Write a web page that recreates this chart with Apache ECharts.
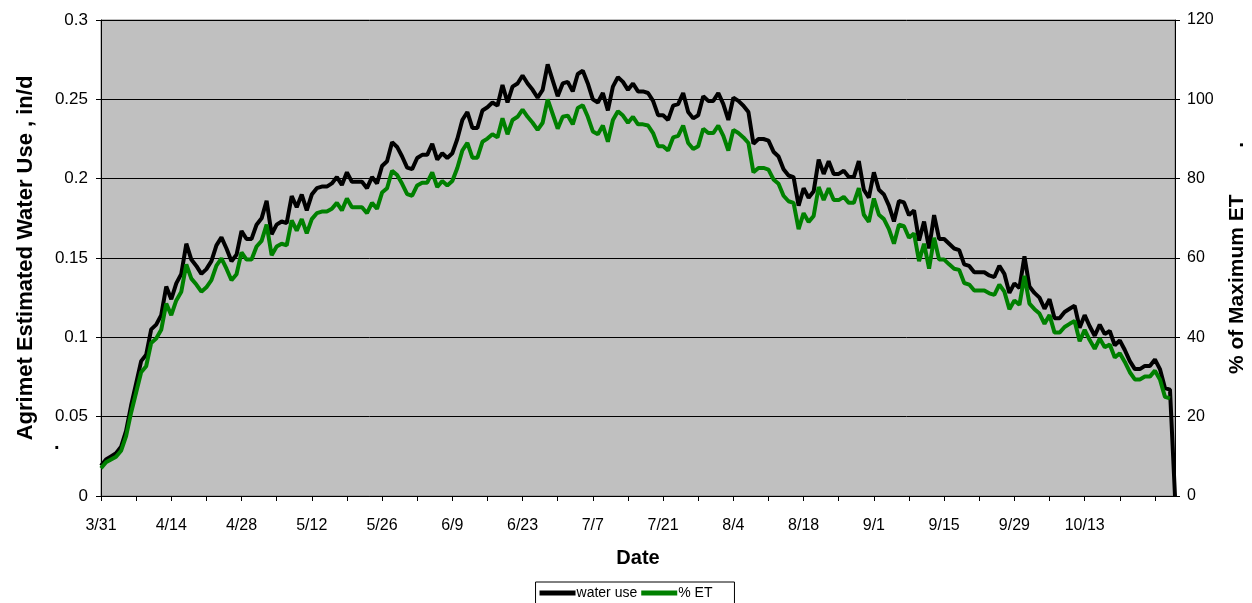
<!DOCTYPE html>
<html>
<head>
<meta charset="utf-8">
<script src="https://cdn.jsdelivr.net/npm/echarts@6/dist/echarts.min.js"></script>
<style>
  html, body { margin: 0; padding: 0; background: #fff; }
  #chart { width: 1252px; height: 603px; }
</style>
</head>
<body>
<div id="chart"></div>
<script>
// daily values, 3/31 .. 10/31
const startMonth = 3
const startDay = 31
const dayCount = 215

const waterUse = [
  0.019, 0.023, 0.025, 0.027, 0.031, 0.041, 0.057, 0.071, 0.085, 0.089,
  0.105, 0.108, 0.114, 0.132, 0.124, 0.134, 0.140, 0.159, 0.149, 0.145,
  0.140, 0.143, 0.148, 0.158, 0.163, 0.156, 0.148, 0.152, 0.167, 0.162,
  0.162, 0.171, 0.175, 0.186, 0.165, 0.171, 0.173, 0.172, 0.189, 0.182,
  0.190, 0.180, 0.190, 0.194, 0.195, 0.195, 0.197, 0.201, 0.196, 0.204,
  0.198, 0.198, 0.198, 0.194, 0.201, 0.197, 0.208, 0.211, 0.223, 0.220,
  0.214, 0.207, 0.206, 0.213, 0.215, 0.215, 0.222, 0.212, 0.216, 0.213,
  0.216, 0.225, 0.237, 0.242, 0.232, 0.232, 0.243, 0.245, 0.248, 0.246,
  0.259, 0.248, 0.258, 0.260, 0.265, 0.260, 0.256, 0.251, 0.256, 0.272,
  0.262, 0.252, 0.260, 0.261, 0.255, 0.266, 0.268, 0.260, 0.250, 0.248,
  0.254, 0.243, 0.258, 0.264, 0.261, 0.256, 0.260, 0.255, 0.255, 0.254,
  0.249, 0.240, 0.240, 0.237, 0.246, 0.247, 0.254, 0.242, 0.238, 0.240,
  0.252, 0.249, 0.249, 0.254, 0.247, 0.237, 0.251, 0.249, 0.246, 0.242,
  0.222, 0.225, 0.225, 0.224, 0.217, 0.214, 0.206, 0.202, 0.201, 0.183,
  0.194, 0.188, 0.192, 0.212, 0.203, 0.211, 0.203, 0.203, 0.205, 0.201,
  0.201, 0.211, 0.193, 0.188, 0.204, 0.193, 0.190, 0.183, 0.173, 0.186,
  0.185, 0.177, 0.180, 0.161, 0.173, 0.156, 0.177, 0.162, 0.162, 0.159,
  0.156, 0.155, 0.146, 0.145, 0.141, 0.141, 0.141, 0.139, 0.138, 0.145,
  0.140, 0.128, 0.134, 0.131, 0.151, 0.132, 0.128, 0.125, 0.118, 0.124,
  0.112, 0.112, 0.116, 0.118, 0.120, 0.106, 0.114, 0.107, 0.101, 0.108,
  0.102, 0.104, 0.095, 0.098, 0.092, 0.085, 0.080, 0.080, 0.082, 0.082,
  0.086, 0.080, 0.068, 0.067, 0
]

const pctET = [
  7.0, 8.5, 9.2, 9.9, 11.4, 15.1, 21.0, 26.1, 31.2, 32.7,
  38.6, 39.7, 41.9, 48.5, 45.6, 49.3, 51.5, 58.4, 54.8, 53.3,
  51.5, 52.6, 54.4, 58.1, 59.9, 57.3, 54.4, 55.9, 61.4, 59.6,
  59.6, 62.9, 64.3, 68.4, 60.7, 62.9, 63.6, 63.2, 69.5, 66.9,
  69.8, 66.2, 69.8, 71.3, 71.7, 71.7, 72.4, 73.9, 72.0, 75.0,
  72.8, 72.8, 72.8, 71.3, 73.9, 72.4, 76.5, 77.6, 82.0, 80.9,
  78.7, 76.1, 75.7, 78.3, 79.0, 79.0, 81.6, 77.9, 79.4, 78.3,
  79.4, 82.7, 87.1, 89.0, 85.3, 85.3, 89.3, 90.1, 91.2, 90.4,
  95.2, 91.2, 94.8, 95.6, 97.4, 95.6, 94.1, 92.3, 94.1, 100.0,
  96.3, 92.6, 95.6, 95.9, 93.7, 97.8, 98.5, 95.6, 91.9, 91.2,
  93.4, 89.3, 94.8, 97.0, 95.9, 94.1, 95.6, 93.7, 93.7, 93.4,
  91.5, 88.2, 88.2, 87.1, 90.4, 90.8, 93.4, 89.0, 87.5, 88.2,
  92.6, 91.5, 91.5, 93.4, 90.8, 87.1, 92.3, 91.5, 90.4, 89.0,
  81.6, 82.7, 82.7, 82.3, 79.8, 78.7, 75.7, 74.3, 73.9, 67.3,
  71.3, 69.1, 70.6, 77.9, 74.6, 77.6, 74.6, 74.6, 75.4, 73.9,
  73.9, 77.6, 70.9, 69.1, 75.0, 70.9, 69.8, 67.3, 63.6, 68.4,
  68.0, 65.1, 66.2, 59.2, 63.6, 57.3, 65.1, 59.6, 59.6, 58.4,
  57.3, 57.0, 53.7, 53.3, 51.8, 51.8, 51.8, 51.1, 50.7, 53.3,
  51.5, 47.1, 49.3, 48.2, 55.5, 48.5, 47.1, 46.0, 43.4, 45.6,
  41.2, 41.2, 42.6, 43.4, 44.1, 39.0, 41.9, 39.3, 37.1, 39.7,
  37.5, 38.2, 34.9, 36.0, 33.8, 31.2, 29.4, 29.4, 30.1, 30.1,
  31.6, 29.4, 25.0, 24.6, null
]

const tickLabels = ['3/31', '4/14', '4/28', '5/12', '5/26', '6/9', '6/23', '7/7',
  '7/21', '8/4', '8/18', '9/1', '9/15', '9/29', '10/13']

const dates = []
for (let i = 0; i < dayCount; i++) {
  const d = new Date(2001, startMonth - 1, startDay + i)
  dates.push((d.getMonth() + 1) + '/' + d.getDate())
}

const font = '"Liberation Sans", Arial, sans-serif'
const chart = echarts.init(document.getElementById('chart'))

chart.setOption({
  animation: false,
  textStyle: { fontFamily: font, color: '#000' },
  grid: {
    left: 101,
    right: 77,
    top: 20,
    bottom: 107,
    outerBoundsMode: 'none',
    containLabel: false,
    show: true,
    backgroundColor: '#c0c0c0',
    borderColor: '#808080',
    borderWidth: 1,
  },
  legend: {
    top: 582,
    left: 'center',
    backgroundColor: '#fff',
    borderColor: '#000',
    borderWidth: 1,
    padding: [4, 22, 6, 4],
    itemGap: 4,
    itemWidth: 36,
    itemHeight: 5,
    icon: 'rect',
    textStyle: { fontSize: 14, fontFamily: font, color: '#000', padding: [0, 0, 0, -4] },
    data: ['water use', '% ET'],
  },
  xAxis: {
    type: 'category',
    data: dates,
    boundaryGap: false,
    name: 'Date',
    nameLocation: 'middle',
    nameGap: 52,
    nameTextStyle: { fontSize: 20, fontWeight: 'bold', fontFamily: font, color: '#000' },
    axisLine: { lineStyle: { color: '#000', width: 1 } },
    axisTick: {
      interval: (i) => i % 7 === 0,
      length: 5,
      lineStyle: { color: '#000' },
    },
    axisLabel: {
      interval: (i, v) => tickLabels.includes(v),
      fontSize: 16,
      margin: 22,
      color: '#000',
      fontFamily: font,
    },
    splitLine: { show: false },
  },
  yAxis: [
    {
      type: 'value',
      min: 0,
      max: 0.3,
      interval: 0.05,
      name: 'Agrimet Estimated Water Use , in/d',
      nameLocation: 'middle',
      nameRotate: 90,
      nameGap: 64,
      nameTextStyle: { fontSize: 22, fontWeight: 'bold', fontFamily: font, color: '#000' },
      axisLine: { show: true, lineStyle: { color: '#000', width: 1 } },
      axisTick: { show: true, length: 5, lineStyle: { color: '#000' } },
      axisLabel: { fontSize: 17, margin: 13, color: '#000', fontFamily: font },
      splitLine: { show: true, lineStyle: { color: '#000', width: 1 } },
    },
    {
      type: 'value',
      min: 0,
      max: 120,
      interval: 20,
      position: 'right',
      name: '% of Maximum ET        .',
      nameLocation: 'middle',
      nameRotate: 90,
      nameGap: 52,
      nameTextStyle: { fontSize: 21, fontWeight: 'bold', fontFamily: font, color: '#000' },
      axisLine: { show: true, lineStyle: { color: '#000', width: 1 } },
      axisTick: { show: true, length: 5, lineStyle: { color: '#000' } },
      axisLabel: { fontSize: 16, margin: 12, color: '#000', fontFamily: font },
      splitLine: { show: false },
    },
  ],
  graphic: [
    {
      type: 'text',
      left: 54,
      top: 433,
      style: { text: '.', font: 'bold 20px ' + font, fill: '#000' },
    },
  ],
  series: [
    {
      name: 'water use',
      type: 'line',
      yAxisIndex: 0,
      data: waterUse,
      showSymbol: false,
      color: '#000',
      lineStyle: { color: '#000', width: 4 },
      z: 2,
    },
    {
      name: '% ET',
      type: 'line',
      yAxisIndex: 1,
      data: pctET,
      showSymbol: false,
      color: '#008000',
      lineStyle: { color: '#008000', width: 4 },
      z: 3,
    },
  ],
})
</script>
</body>
</html>
